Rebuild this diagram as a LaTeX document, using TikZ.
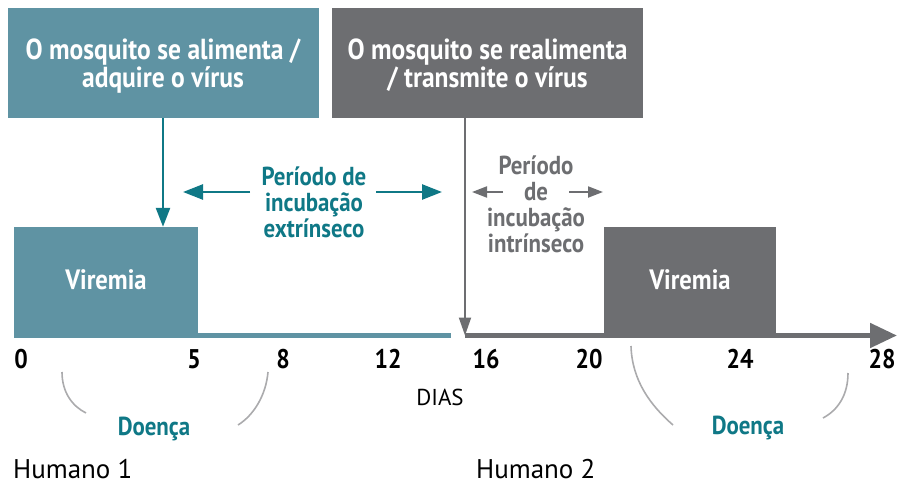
\documentclass[tikz,border=0pt]{standalone}
\usepackage{fontspec}
\setmainfont{PT Sans}[BoldFeatures={FakeStretch=0.88}]
\usetikzlibrary{arrows.meta,positioning}

\definecolor{tealbox}{HTML}{5F93A3}
\definecolor{tealtext}{HTML}{0F7886}
\definecolor{grayone}{HTML}{6D6E71}
\definecolor{grayarc}{HTML}{ABABAD}

\begin{document}
\begin{tikzpicture}[x=1pt, y=-1pt,
    box/.style = {fill=#1, text=white, font=\fontsize{29}{28}\selectfont\bfseries, align=center, inner sep=0pt, text depth=0pt},
    vir/.style = {fill=#1, text=white, font=\fontsize{28}{28}\selectfont\bfseries, inner sep=0pt},
    period/.style = {text=#1, font=\fontsize{26}{26}\selectfont\bfseries, align=center, inner sep=0pt},
    num/.style = {font=\fontsize{27}{28}\selectfont\bfseries, inner sep=0pt},
    lbl/.style = {font=\fontsize{23}{24}\selectfont, inner sep=0pt},
    arc/.style = {draw=grayarc, line width=1.6pt}]
\useasboundingbox (0,0) rectangle (898,485);

\node[box=tealbox, minimum width=311pt, minimum height=110pt] (mosqA) at (163,63) {O mosquito se alimenta /\\adquire o vírus};
\node[box=grayone, minimum width=311pt, minimum height=110pt] (mosqB) at (487.5,63) {O mosquito se realimenta\\/ transmite o vírus};

\node[vir=tealbox, minimum width=184pt, minimum height=106pt] (virA) at (106,280) {Viremia};
\node[vir=grayone, minimum width=172pt, minimum height=106pt] (virB) at (690,280) {Viremia};

% eixo dos dias
\coordinate (axA0) at (14,335.5);
\coordinate (axA1) at (451,335.5);
\coordinate (axB0) at (465,335.5);
\coordinate (axB1) at (897,335.5);
\draw[tealbox, line width=5pt] (axA0) -- (axA1);
\draw[grayone, line width=5pt, -{Triangle[length=27pt,width=24pt]}] (axB0) -- (axB1);

% setas verticais
\draw[tealtext, line width=2.5pt, -{Triangle[length=19pt,width=14pt]}] (mosqA.south) -- (virA.north -| mosqA.south);
\coordinate (topB) at (465,118);
\draw[grayone, line width=2pt, -{Triangle[length=18pt,width=12pt]}] (topB) -- (topB |- axB0);

% periodos de incubacao
\node[period=tealtext] (incA) at (314,202) {Período de\\incubação\\extrínseco};
\coordinate (incAl) at (183,192);
\coordinate (incAr) at (442,192);
\draw[tealtext, line width=2.5pt, -{Triangle[length=20pt,width=15pt]}] (250,192) -- (incAl);
\draw[tealtext, line width=2.5pt, -{Triangle[length=20pt,width=15pt]}] (376,192) -- (incAr);

\node[period=grayone] (incB) at (536,204) {Período\\de\\incubação\\intrínseco};
\coordinate (incBl) at (472,192);
\coordinate (incBr) at (603,192);
\draw[grayone, line width=2pt, -{Triangle[length=15pt,width=11pt]}] (503,192) -- (incBl);
\draw[grayone, line width=2pt, -{Triangle[length=15pt,width=11pt]}] (569,192) -- (incBr);

% numeros
\foreach \d/\x in {0/21, 5/194, 8/283, 12/388, 16/486, 20/589, 24/740, 28/882}
  \node[num, anchor=base] (d\d) at (\x,368) {\d};
\node[lbl, anchor=base] (dias) at (440,405) {DIAS};

% doenca
\draw[arc] (62,372) .. controls (62,392) and (72,406) .. (86,413);
\draw[arc] (268,372) .. controls (266,395) and (254,415) .. (238,425);
\node[period=tealtext, anchor=base] (doencaA) at (154,435) {Doença};

\draw[arc] (631,346) .. controls (632,380) and (650,405) .. (673,425);
\draw[arc] (848,373) .. controls (848,395) and (838,410) .. (823,418);
\node[period=tealtext, anchor=base] (doencaB) at (748,434) {Doença};

\node[lbl, font=\fontsize{27}{28}\selectfont, anchor=base west] (humA) at (13,478) {Humano 1};
\node[lbl, font=\fontsize{27}{28}\selectfont, anchor=base west] (humB) at (476,478) {Humano 2};
\end{tikzpicture}
\end{document}
